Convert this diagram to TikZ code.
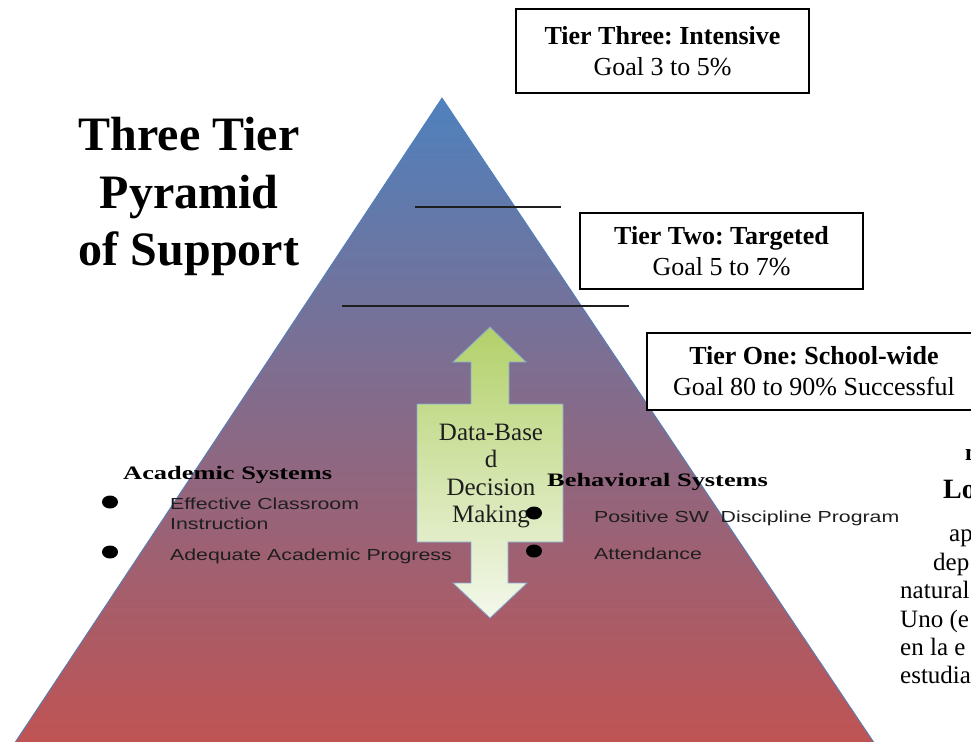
\documentclass[tikz,border=0pt]{standalone}
\usepackage{fontspec}
\setmainfont{Liberation Serif}
\newfontfamily\widebold[FakeStretch=1.39]{Liberation Serif}
\newfontfamily\widesans[FakeStretch=1.33]{Liberation Sans}
\definecolor{tierblue}{RGB}{79,129,189}
\definecolor{tiermid}{RGB}{134,108,150}
\definecolor{tierred}{RGB}{194,82,80}
\definecolor{arrowgreen}{RGB}{178,208,105}
\definecolor{arrowpale}{RGB}{244,248,236}
\definecolor{inkgray}{RGB}{30,30,30}
\frenchspacing
\begin{document}
\begin{tikzpicture}[x=1pt,y=-1pt,
		tierbox/.style={draw, fill=white, line width=1.2pt, align=center, inner sep=0pt, font=\fontsize{26}{31}\selectfont},
		plain/.style={inner sep=0pt, anchor=base west},
		headtext/.style={plain, font=\widebold\bfseries\fontsize{19}{22}\selectfont},
		itemtext/.style={plain, text=inkgray, font=\widesans\fontsize{16}{20}\selectfont},
		pagetext/.style={plain, font=\fontsize{25}{28}\selectfont}]
		\useasboundingbox (0,0) rectangle (971,741);
		\coordinate (apex) at (442,98);
		\coordinate (bl) at (3.4,760);
		\coordinate (br) at (885.7,760);
		\shade[top color=tierblue, middle color=tiermid, bottom color=tierred, draw=tierblue, line width=0.8pt] (apex) -- (bl) -- (br) -- cycle;
		\coordinate (la) at (415,207);
		\coordinate (lb) at (561,207);
		\coordinate (lc) at (342,306);
		\coordinate (ld) at (629,306);
		\draw[line width=1.5pt, inkgray] (la) -- (lb);
		\draw[line width=1.5pt, inkgray] (lc) -- (ld);
		\shade[top color=arrowgreen, bottom color=arrowpale, draw=tierblue!70, line width=0.8pt]
			(490,327) -- (526,362) -- (509,362) -- (509,404) -- (563,404) -- (563,542) -- (508,542) -- (508,583) -- (527,583)
			-- (490,618) -- (453,583) -- (471,583) -- (471,542) -- (417,542) -- (417,404) -- (471,404) -- (471,362)
			-- (453,362) -- cycle;
		\foreach \y/\t in {150/Three Tier, 208/Pyramid, 265/of Support}{
			\node[inner sep=0pt, anchor=base, font=\fontsize{48}{58}\selectfont\bfseries] (title\y) at (189,\y) {\t};
		}
		\node[tierbox, minimum width=293pt, minimum height=84pt] (three) at (662.5,51) {\textbf{Tier Three: Intensive}\\Goal 3 to 5\%};
		\node[tierbox, minimum width=283pt, minimum height=76pt] (two) at (721.5,251) {\textbf{Tier Two: Targeted}\\Goal 5 to 7\%};
		\node[tierbox, minimum width=334pt, minimum height=77pt] (one) at (814,371.5) {\textbf{Tier One: School-wide}\\Goal 80 to 90\% Successful};
		\foreach \y/\t in {440/Data-Base, 467/d, 495/Decision, 522/Making}{
			\node[inner sep=0pt, anchor=base, text=inkgray, font=\fontsize{25}{28}\selectfont] (dbd\y) at (491,\y) {\t};
		}
		\node[headtext] (acad) at (123,479) {Academic Systems};
		\node[itemtext] (eff) at (170,509) {Effective Classroom};
		\node[itemtext] (instr) at (170,529) {Instruction};
		\node[itemtext] (adeq) at (170,560) {Adequate Academic Progress};
		\node[headtext] (behav) at (547,486) {Behavioral Systems};
		\node[itemtext] (pos) at (594,522) {Positive SW\ \ Discipline Program};
		\node[itemtext] (att) at (594,559) {Attendance};
		\foreach \x/\y in {110/502, 110/552, 534/513, 534/551}{
			\fill (\x,\y) ellipse [x radius=8pt, y radius=6.5pt];
		}
		\node[plain, font=\fontsize{24}{28}\selectfont\bfseries] (frn) at (965,460) {n};
		\node[plain, font=\fontsize{28}{32}\selectfont\bfseries] (frlo) at (943,498) {Lo};
		\foreach \x/\y/\t in {949/541/ap, 933/570/dep, 900/598/natural, 900/627/Uno (e, 900/655/en la e, 900/683/estudia}{
			\node[pagetext] (fr\y) at (\x,\y) {\t};
		}
	\end{tikzpicture}
\end{document}
